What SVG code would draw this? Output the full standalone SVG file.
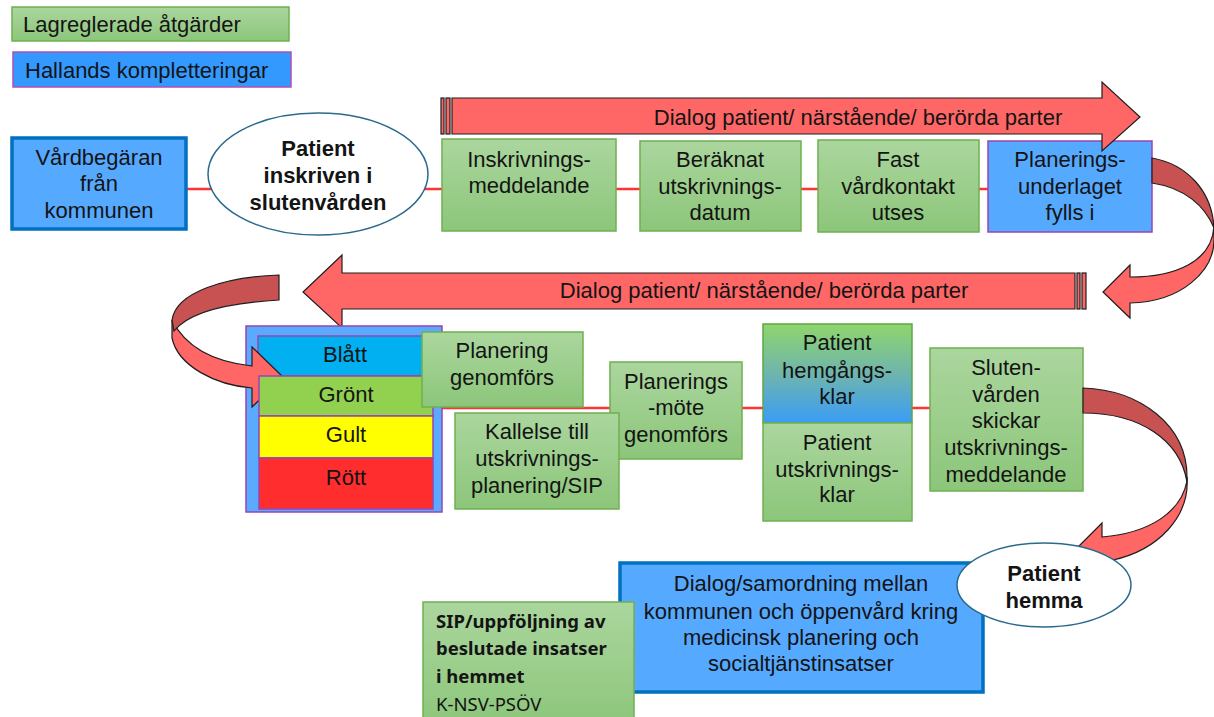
<svg xmlns="http://www.w3.org/2000/svg" width="1214" height="717" viewBox="0 0 1214 717">
<defs>
<linearGradient id="gg" x1="0" y1="0" x2="0" y2="1"><stop offset="0" stop-color="#abd69e"/><stop offset="1" stop-color="#8cc67a"/></linearGradient>
<linearGradient id="gb" x1="0" y1="0" x2="0" y2="1"><stop offset="0" stop-color="#8fd56c"/><stop offset="0.5" stop-color="#6fb5ad"/><stop offset="1" stop-color="#3a9cf6"/></linearGradient>
<style>
.t{font-family:"Liberation Sans",Arial,sans-serif;font-size:22px;fill:#141414;text-anchor:middle}
.l{text-anchor:start}
.b{font-weight:bold}
.c{font-family:"Noto Sans","Open Sans",sans-serif;font-size:18.5px;fill:#141414}
.gr{fill:url(#gg);stroke:#6fb050;stroke-width:1.5}
.bl{fill:#55a9ff;stroke:#0070c0;stroke-width:3.5}
.pu{stroke:#9a44b0;stroke-width:1.5}
.ar{fill:#ff6666;stroke:#1e1e1e;stroke-width:1.2;stroke-linejoin:miter}
.dk{fill:#c85252;stroke:#1e1e1e;stroke-width:1.2}
.el{fill:#fff;stroke:#2a6a8c;stroke-width:1.5}
.ln{stroke:#ff3333;stroke-width:2.5;fill:none}
</style>
</defs>
<rect width="1214" height="717" fill="#fff"/>

<g id="connectors">
<line class="ln" x1="186" y1="189" x2="988" y2="189"/>
<line class="ln" x1="442" y1="408" x2="930" y2="408"/>
</g>

<g id="legend-lagreglerade">
<rect x="12" y="7" width="277" height="34" class="gr"/>
<text class="t l" x="23" y="32">Lagreglerade åtgärder</text>
</g>
<g id="legend-hallands">
<rect x="13" y="52" width="278" height="35" fill="#3399ff" stroke="#b050b8" stroke-width="1.5"/>
<text class="t l" x="25" y="78">Hallands kompletteringar</text>
</g>

<g id="vardbegaran">
<rect x="12" y="138" width="174" height="91" class="bl"/>
<text class="t" x="99" y="165">Vårdbegäran</text>
<text class="t" x="99" y="191">från</text>
<text class="t" x="99" y="218">kommunen</text>
</g>

<g id="patient-inskriven">
<ellipse cx="318" cy="174" rx="110" ry="61" class="el"/>
<text class="t b" x="318" y="156">Patient</text>
<text class="t b" x="318" y="183">inskriven i</text>
<text class="t b" x="318" y="210">slutenvården</text>
</g>

<g id="inskrivningsmeddelande">
<rect x="442" y="139" width="174" height="92" class="gr"/>
<text class="t" x="529" y="167">Inskrivnings-</text>
<text class="t" x="529" y="193">meddelande</text>
</g>
<g id="beraknat">
<rect x="640" y="141" width="161" height="90" class="gr"/>
<text class="t" x="720" y="167">Beräknat</text>
<text class="t" x="720" y="194">utskrivnings-</text>
<text class="t" x="720" y="220">datum</text>
</g>
<g id="fast-vardkontakt">
<rect x="818" y="140" width="161" height="92" class="gr"/>
<text class="t" x="898" y="167">Fast</text>
<text class="t" x="898" y="194">vårdkontakt</text>
<text class="t" x="898" y="220">utses</text>
</g>
<g id="planeringsunderlaget">
<rect x="988" y="141" width="164" height="91" fill="#55a9ff" class="pu"/>
<text class="t" x="1070" y="167">Planerings-</text>
<text class="t" x="1070" y="194">underlaget</text>
<text class="t" x="1070" y="220">fylls i</text>
</g>

<g id="dialog-arrow-top">
<rect x="441" y="98" width="3" height="36" class="ar"/>
<rect x="446" y="98" width="4" height="36" class="ar"/>
<path class="ar" d="M452,98 L1102,98 L1102,82 L1140,117 L1102,151 L1102,134 L452,134 Z"/>
<text class="t" x="858" y="125">Dialog patient/ närstående/ berörda parter</text>
</g>

<g id="curved-arrow-right-top">
<path class="ar" d="M1214,226 C1212,262 1175,277 1130,277 L1130,265 L1103,292 L1130,318 L1130,303 C1180,302 1216,272 1214,236 Z"/>
<path class="dk" d="M1152,158 C1186,164 1212,190 1214,228 C1205,206 1185,188 1152,183 Z"/>
</g>

<g id="dialog-arrow-bottom">
<rect x="1077" y="273" width="3" height="36" class="ar"/>
<rect x="1082" y="273" width="4" height="36" class="ar"/>
<path class="ar" d="M1075,273 L342,273 L342,255 L303,292 L342,328 L342,309 L1075,309 Z"/>
<text class="t" x="764" y="298">Dialog patient/ närstående/ berörda parter</text>
</g>

<g id="prioritet">
<rect x="246" y="326" width="196" height="186" fill="#5aabff" class="pu"/>
<rect x="258" y="336" width="175" height="40" fill="#00b0f0" class="pu"/>
<text class="t" x="345" y="362">Blått</text>
</g>

<g id="curved-arrow-left">
<path class="ar" d="M172,320 L172,338 C178,366 215,385 252,388 L252,407 L283,377 L252,347 L252,366 C215,362 186,348 172,320 Z"/>
<path class="dk" d="M279,275 C225,277 176,292 172,320 L174,331 C188,313 226,303 279,300 Z"/>
</g>

<g id="prioritet-farger">
<rect x="259" y="376" width="174" height="40" fill="#92d050" class="pu"/>
<text class="t" x="346" y="402">Grönt</text>
<rect x="259" y="416" width="174" height="42" fill="#ffff00" class="pu"/>
<text class="t" x="346" y="442">Gult</text>
<rect x="259" y="458" width="174" height="51" fill="#ff2d2d" class="pu"/>
<text class="t" x="346" y="485">Rött</text>
</g>

<g id="planering-genomfors">
<rect x="422" y="332" width="161" height="75" class="gr"/>
<text class="t" x="502" y="358">Planering</text>
<text class="t" x="502" y="385">genomförs</text>
</g>
<g id="planeringsmote">
<rect x="610" y="362" width="132" height="97" class="gr"/>
<text class="t" x="676" y="389">Planerings</text>
<text class="t" x="676" y="415">-möte</text>
<text class="t" x="676" y="442">genomförs</text>
</g>
<g id="kallelse">
<rect x="455" y="413" width="164" height="96" class="gr"/>
<text class="t" x="537" y="439">Kallelse till</text>
<text class="t" x="537" y="466">utskrivnings-</text>
<text class="t" x="537" y="493">planering/SIP</text>
</g>
<g id="hemgangsklar">
<rect x="763" y="324" width="149" height="99" fill="url(#gb)" stroke="#5aa845" stroke-width="1.5"/>
<text class="t" x="837" y="350">Patient</text>
<text class="t" x="837" y="378">hemgångs-</text>
<text class="t" x="837" y="404">klar</text>
</g>
<g id="utskrivningsklar">
<rect x="763" y="423" width="149" height="98" class="gr"/>
<text class="t" x="837" y="450">Patient</text>
<text class="t" x="837" y="477">utskrivnings-</text>
<text class="t" x="837" y="502">klar</text>
</g>
<g id="slutenvarden-skickar">
<rect x="930" y="348" width="153" height="143" class="gr"/>
<text class="t" x="1006" y="375">Sluten-</text>
<text class="t" x="1006" y="402">vården</text>
<text class="t" x="1006" y="428">skickar</text>
<text class="t" x="1006" y="455">utskrivnings-</text>
<text class="t" x="1006" y="482">meddelande</text>
</g>

<g id="curved-arrow-right-bottom">
<path class="ar" d="M1187,477 C1190,517 1158,550 1113,560 L1108,576 L1078,547 L1102,523 L1102,537 C1150,533 1181,512 1187,481 Z"/>
<path class="dk" d="M1083,388 C1140,390 1187,425 1187,477 L1187,482 C1180,440 1140,413 1083,413 Z"/>
</g>

<g id="dialog-samordning">
<rect x="620" y="563" width="363" height="129" class="bl"/>
<text class="t" x="801" y="591">Dialog/samordning mellan</text>
<text class="t" x="801" y="619">kommunen och öppenvård kring</text>
<text class="t" x="801" y="645">medicinsk planering och</text>
<text class="t" x="801" y="671">socialtjänstinsatser</text>
</g>
<g id="patient-hemma">
<ellipse cx="1044" cy="585" rx="87" ry="42" class="el"/>
<text class="t b" x="1044" y="581">Patient</text>
<text class="t b" x="1044" y="608">hemma</text>
</g>
<g id="sip-uppfoljning">
<rect x="423" y="602" width="211" height="125" class="gr"/>
<text class="c" x="436" y="628" font-weight="bold">SIP/uppföljning av</text>
<text class="c" x="436" y="655" font-weight="bold">beslutade insatser</text>
<text class="c" x="436" y="683" font-weight="bold">i hemmet</text>
<text class="c" x="436" y="711">K-NSV-PSÖV</text>
</g>
</svg>
